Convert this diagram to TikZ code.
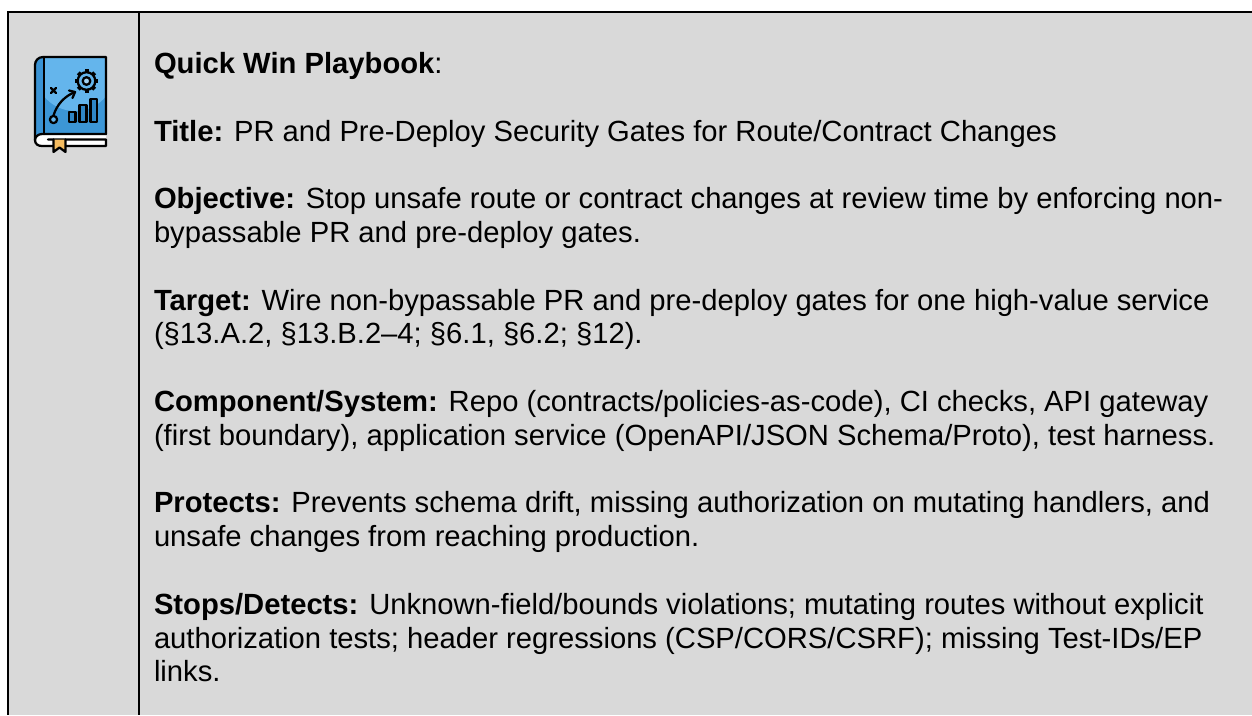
\documentclass[tikz,border=0pt]{standalone}
\usepackage{fontspec}
\setmainfont{Liberation Sans}
\definecolor{panelgray}{HTML}{D9D9D9}
\definecolor{coverlight}{HTML}{64B5EC}
\definecolor{coverdark}{HTML}{3C96D6}
\definecolor{spinecol}{HTML}{3A93D4}
\definecolor{barcol}{HTML}{2F86C6}
\definecolor{markcol}{HTML}{F5BC60}
\tikzset{
  para/.style={anchor=base west,inner sep=0pt,outer sep=0pt,font=\fontsize{21.9}{25.4}\selectfont},
  rule/.style={draw=black,line width=1.6pt},
  ink/.style={draw=black,line width=1.7pt,line join=round,line cap=round},
}
\begin{document}
\begin{tikzpicture}[x=0.75pt,y=-0.75pt]
\useasboundingbox (0,0) rectangle (1252,715);
\fill[white] (0,0) rectangle (1252,715);
\fill[panelgray] (8,12) rectangle (1252,715);
\draw[rule] (1252,12) -- (8,12) -- (8,715);
\draw[rule] (139,12) -- (139,715);
% icon
\fill[white] (42,134) .. controls (38,134) and (35,137) .. (35,140) .. controls (35,144) and (38,146) .. (42,146) -- (106,146) -- (106,134) -- cycle;
\fill[coverdark] (44,57) rectangle (106,134);
\begin{scope}
\clip (44,57) rectangle (106,134);
\fill[coverlight] (75,71) circle (30pt);
\end{scope}
\fill[spinecol] (44,57) -- (43,57) .. controls (38,57) and (35,61) .. (35,65) -- (35,140) .. controls (35,136) and (38,134) .. (44,134) -- cycle;
\draw[ink] (106,134) -- (106,57) -- (43,57) .. controls (38,57) and (35,61) .. (35,65) -- (35,140) .. controls (35,144) and (38,146) .. (42,146) -- (106,146) -- (106,139.5) -- (48,139.5);
\draw[ink] (44,57) -- (44,134);
\draw[ink] (106,134) -- (42,134) .. controls (38,134) and (35,137) .. (35,140);
\fill[markcol] (53.5,139.5) -- (65.5,139.5) -- (65.5,152) -- (59.5,147.5) -- (53.5,152) -- cycle;
\draw[ink] (53.5,139.5) -- (53.5,152) -- (59.5,147.5) -- (65.5,152) -- (65.5,139.5);
% gear
\draw[ink,fill=coverlight] (86.5,81) circle (8.8);
\foreach \a in {0,45,...,315}{\draw[black,line width=3pt] (86.5,81)++(\a:8.8) -- ++(\a:2.8);}
\draw[ink,fill=coverlight!60!white] (86.5,81) circle (3.8);
% chart
\draw[ink,fill=barcol] (69,112) rectangle (75.5,122);
\draw[ink,fill=barcol] (79.5,105) rectangle (86.5,122);
\draw[ink,fill=barcol] (90.5,99) rectangle (97,122);
% play
\draw[ink] (53.5,115.5) .. controls (57,104) and (65,96) .. (75,92);
\draw[ink] (69,90.5) -- (75,92) -- (72.5,98);
\draw[ink,fill=coverlight] (53.5,119.5) circle (3.6);
\draw[ink] (51,88) -- (56,93) (56,88) -- (51,93);
% text
\node[para] (heading) at (154,73.5) {\textbf{Quick Win Playbook}:};
\node[para] (title) at (154,141.1) {\textbf{Title:} PR and Pre-Deploy Security Gates for Route/Contract Changes};
\node[para] (objectivea) at (154,208.7) {\textbf{Objective:} Stop unsafe route or contract changes at review time by enforcing non-};
\node[para] (objectiveb) at (154,242.5) {bypassable PR and pre-deploy gates.};
\node[para] (targeta) at (154,310.1) {\textbf{Target:} Wire non-bypassable PR and pre-deploy gates for one high-value service};
\node[para] (targetb) at (154,343.9) {(§13.A.2, §13.B.2–4; §6.1, §6.2; §12).};
\node[para] (componenta) at (154,411.5) {\textbf{Component/System:} Repo (contracts/policies-as-code), CI checks, API gateway};
\node[para] (componentb) at (154,445.3) {(first boundary), application service (OpenAPI/JSON Schema/Proto), test harness.};
\node[para] (protectsa) at (154,512.9) {\textbf{Protects:} Prevents schema drift, missing authorization on mutating handlers, and};
\node[para] (protectsb) at (154,546.7) {unsafe changes from reaching production.};
\node[para] (stopsa) at (154,614.3) {\textbf{Stops/Detects:} Unknown-field/bounds violations; mutating routes without explicit};
\node[para] (stopsb) at (154,648.1) {authorization tests; header regressions (CSP/CORS/CSRF); missing Test-IDs/EP};
\node[para] (stopsc) at (154,681.9) {links.};
\end{tikzpicture}
\end{document}
